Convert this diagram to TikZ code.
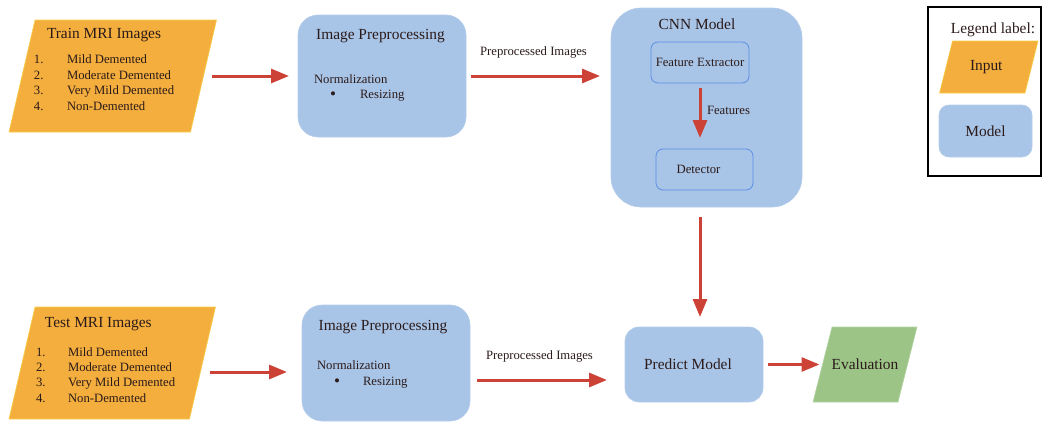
\documentclass[tikz,border=0pt]{standalone}
\usepackage{fontspec}
\setmainfont{Liberation Serif}
\usetikzlibrary{arrows.meta,backgrounds}
\definecolor{orF}{HTML}{F3AE3D}
\definecolor{orE}{HTML}{F9CF4A}
\definecolor{blF}{HTML}{A8C4E6}
\definecolor{blE}{HTML}{B4CDEB}
\definecolor{inE}{HTML}{5E8FE6}
\definecolor{grF}{HTML}{9DC487}
\definecolor{grE}{HTML}{B5D6A6}
\definecolor{arrowred}{HTML}{CC4236}
\definecolor{txt}{HTML}{2B1A1A}
\newcommand\paraFill[3]{\fill[#3] ([xshift=#2]#1.north west) -- ([xshift=#2]#1.north east) -- ([xshift=-#2]#1.south east) -- ([xshift=-#2]#1.south west) -- cycle;}
\begin{document}
\begin{tikzpicture}[x=1pt,y=-1pt,
  every node/.style={text=txt, inner sep=0pt, outer sep=0pt},
  big/.style={font=\fontsize{15.4}{17}\selectfont},
  small/.style={font=\fontsize{12.7}{14}\selectfont},
  bul/.style={font=\fontsize{17}{18}\selectfont, anchor=base},
  region/.style={draw=none, fill=none},
  modelbox/.style={fill=blF, draw=blE, line width=0.6pt},
  innerbox/.style={draw=inE, line width=0.8pt, rounded corners=7pt},
  flow/.style={draw=arrowred, line width=3pt, -{Triangle[length=18pt,width=14pt]}},
  lbl/.style={anchor=base west},
  clbl/.style={anchor=base}]
\useasboundingbox (0,0) rectangle (1045,423);

% ---------- shapes ----------
\node[region, minimum width=181.5pt, minimum height=112pt] (train) at (112.75,76) {};
\node[region, minimum width=180.5pt, minimum height=112pt] (test) at (112.25,363) {};
\node[modelbox, rounded corners=20pt, minimum width=168pt, minimum height=122pt] (pre1) at (382,76) {};
\node[modelbox, rounded corners=20pt, minimum width=168pt, minimum height=116pt] (pre2) at (386,363) {};
\node[modelbox, rounded corners=30pt, minimum width=191pt, minimum height=199pt] (cnn) at (706.5,107.5) {};
\node[innerbox, small, minimum width=98pt, minimum height=41pt] (fe) at (700,62.5) {Feature Extractor};
\node[innerbox, small, minimum width=97pt, minimum height=41pt] (det) at (704.5,169.5) {\hspace*{-12pt}Detector};
\node[modelbox, big, rounded corners=14pt, minimum width=138pt, minimum height=75pt] (pred) at (694,364.5) {\hspace*{-12pt}Predict Model};
\node[region, big, minimum width=85pt, minimum height=75pt] (eval) at (865,364.5) {Evaluation};

% legend
\node[draw=black, line width=1.6pt, minimum width=113pt, minimum height=169pt] (legend) at (984.5,91.5) {};
\node[region, big, minimum width=85.5pt, minimum height=52pt] (inp) at (988.75,67) {\hspace*{-5pt}Input};
\node[modelbox, big, rounded corners=10pt, minimum width=93pt, minimum height=52pt] (mdl) at (985.5,131) {Model};
\node[big, clbl] (legT) at (993,33) {Legend label:};

\begin{scope}[on background layer]
  \paraFill{train}{13pt}{orF, draw=orE, line width=0.6pt}
  \paraFill{test}{13pt}{orF, draw=orE, line width=0.6pt}
  \paraFill{eval}{9.5pt}{grF, draw=grE, line width=0.6pt}
  \paraFill{inp}{6.5pt}{orF, draw=orE, line width=0.6pt}
\end{scope}

% ---------- texts ----------
\node[big, lbl] (trT) at (47,38) {Train MRI Images};
\foreach \i/\t/\yy in {1/Mild Demented/63, 2/Moderate Demented/79, 3/Very Mild Demented/94, 4/Non-Demented/110}{
  \node[small, lbl] (trn\i) at (34,\yy) {\i.};
  \node[small, lbl] (tri\i) at (67,\yy) {\t};
}
\node[big, lbl] (teT) at (45,327) {Test MRI Images};
\foreach \i/\t/\yy in {1/Mild Demented/356, 2/Moderate Demented/371, 3/Very Mild Demented/386, 4/Non-Demented/402}{
  \node[small, lbl] (ten\i) at (36,\yy) {\i.};
  \node[small, lbl] (tei\i) at (68,\yy) {\t};
}

\node[big, clbl] (p1T) at (380.5,39) {Image Preprocessing};
\node[small, lbl] (p1N) at (314,83) {Normalization};
\node[bul] (p1b) at (333,99.5) {\textbullet};
\node[small, lbl] (p1R) at (360,98) {Resizing};

\node[big, clbl] (p2T) at (383,330) {Image Preprocessing};
\node[small, lbl] (p2N) at (317,369) {Normalization};
\node[bul] (p2b) at (337,386.5) {\textbullet};
\node[small, lbl] (p2R) at (363,385) {Resizing};

\node[big, clbl] (cnnT) at (697,30) {CNN Model};
\node[small, lbl] (featL) at (707,114) {Features};
\node[small, clbl] (ppL1) at (533.5,56) {Preprocessed Images};
\node[small, clbl] (ppL2) at (539.5,359) {Preprocessed Images};

% ---------- connectors ----------
\draw[flow, shorten <=8.5pt, shorten >=9pt] (train.east) -- (pre1.west);
\draw[flow, shorten <=5pt, shorten >=11pt] (pre1.east) -- (pre1.east -| cnn.west);
\draw[flow, shorten <=5pt, shorten >=11pt] (fe.south) -- (fe.south |- det.north);
\draw[flow, shorten <=10pt, shorten >=10pt] ([xshift=6pt]pred.north |- cnn.south) -- ([xshift=6pt]pred.north);
\draw[flow, shorten <=7.5pt, shorten >=15pt] ([yshift=-9pt]test.east) -- ([yshift=-9pt]test.east -| pre2.west);
\draw[flow, shorten <=7pt, shorten >=18pt] ([yshift=-17pt]pre2.east) -- ([yshift=-17pt]pre2.east -| pred.west);
\draw[flow, shorten <=5pt, shorten >=3pt] (pred.east) -- (pred.east -| eval.west);
\end{tikzpicture}
\end{document}
